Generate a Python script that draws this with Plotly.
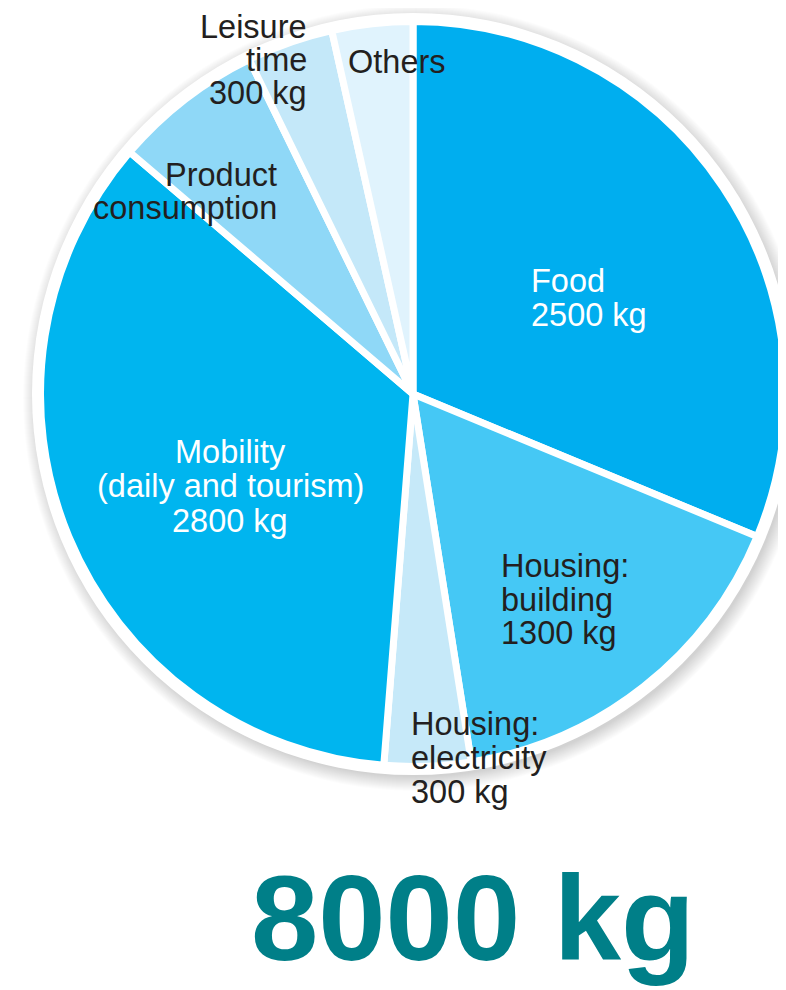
import plotly.graph_objects as go

# ---- data ----
categories = ["Food", "Housing: building", "Housing: electricity",
              "Mobility (daily and tourism)", "Product consumption",
              "Leisure time", "Others"]
values_kg = [2500, 1300, 300, 2800, 520, 300, 280]
slice_colors = ["#00AEEF", "#45C8F5", "#C6E9F9", "#00B5EF",
                "#8FD8F7", "#C4E8F9", "#E0F3FD"]
label_lines = [
    ["Food", "2500 kg"],
    ["Housing:", "building", "1300 kg"],
    ["Housing:", "electricity", "300 kg"],
    ["Mobility", "(daily and tourism)", "2800 kg"],
    ["Product", "consumption"],
    ["Leisure", "time", "300 kg"],
    ["Others"],
]
total_label = "8000 kg"

# ---- layout geometry (screen pixels; page body has an 8px margin) ----
OFF = 8
W, H = 786 - OFF, 990 - OFF
CX, CY = 413, 394
R_PIE = 372.5          # pie radius (colored edge + half stroke)
R_WHITE = 381          # white outer ring

def px_x(x):
    return (x - OFF) / W

def px_y(y):
    return 1 - (y - OFF) / H

label_pos = [  # (x, anchor, first line y, line step, text colour)
    (531, "left", 281, 34, "white"),
    (501, "left", 566, 33.5, "#231F20"),
    (411, "left", 724, 34, "#231F20"),
    (230, "center", 452, 34.5, "white"),
    (277, "right", 175, 33, "#231F20"),
    (307, "right", 27, 33, "#231F20"),
    (348, "left", 62.5, 34, "#231F20"),
]

FONT = "Liberation Sans, Arial, Helvetica, sans-serif"

fig = go.Figure()
fig.add_trace(go.Pie(
    labels=categories,
    values=values_kg,
    sort=False,
    direction="clockwise",
    rotation=0,
    marker=dict(colors=slice_colors, line=dict(color="white", width=7)),
    textinfo="none",
    hoverinfo="label+value",
    showlegend=False,
    domain=dict(x=[max(0, px_x(CX - R_PIE)), min(1, px_x(CX + R_PIE))],
                y=[px_y(CY + R_PIE), px_y(CY - R_PIE)]),
))

shapes = []
# soft drop shadow
SX, SY = CX + 3, CY + 4
for k in range(15):
    r = 379 + k
    shapes.append(dict(type="circle", xref="paper", yref="paper", layer="below",
                       x0=px_x(SX - r), x1=px_x(SX + r),
                       y0=px_y(SY + r), y1=px_y(SY - r),
                       fillcolor="rgba(0,0,0,0.010)", line=dict(width=0)))
# white ring
shapes.append(dict(type="circle", xref="paper", yref="paper", layer="below",
                   x0=px_x(CX - R_WHITE), x1=px_x(CX + R_WHITE),
                   y0=px_y(CY + R_WHITE), y1=px_y(CY - R_WHITE),
                   fillcolor="white", line=dict(width=0)))

annotations = []
for lines, (x, anchor, y0, step, col) in zip(label_lines, label_pos):
    for i, t in enumerate(lines):
        annotations.append(dict(
            text=t, xref="paper", yref="paper",
            x=px_x(x), y=px_y(y0 + i * step),
            xanchor=anchor, yanchor="middle", showarrow=False,
            borderpad=0, borderwidth=0,
            font=dict(family=FONT, size=32.5, color=col)))

annotations.append(dict(
    text="<b>" + total_label + "</b>", xref="paper", yref="paper",
    x=px_x(473), y=px_y(918), xanchor="center", yanchor="middle",
    showarrow=False, borderpad=0, borderwidth=0,
    font=dict(family=FONT, size=121, color="#007F88")))

fig.update_layout(
    width=W, height=H,
    margin=dict(l=0, r=0, t=0, b=0),
    paper_bgcolor="white", plot_bgcolor="white",
    shapes=shapes, annotations=annotations,
    showlegend=False,
)

fig.write_html("out.html")
